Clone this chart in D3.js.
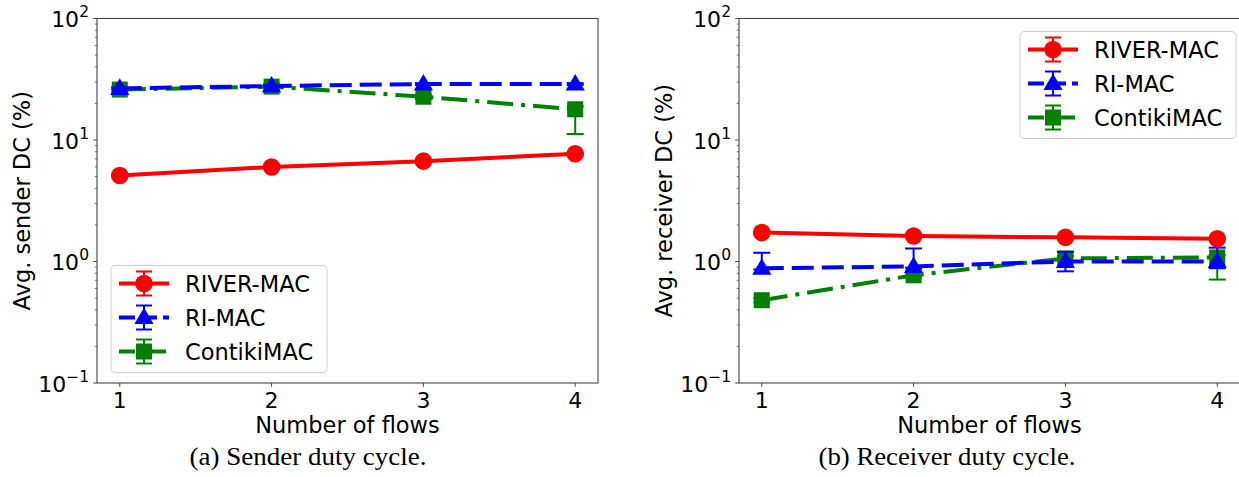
<!DOCTYPE html>
<html lang="en">
<head>
<meta charset="UTF-8">
<title>Sender / receiver duty cycle</title>
<script src="https://cdnjs.cloudflare.com/ajax/libs/d3/7.8.5/d3.min.js"></script>
<style>
  body { margin: 0; background: #fff; }
  svg text { font-family: "DejaVu Sans", sans-serif; fill: #000; }
  svg .caption { font-family: "Liberation Serif", "DejaVu Serif", serif; }
</style>
</head>
<body>
<svg id="CHART" width="1239" height="477"></svg>
<script>
// ---- data ----
var flows = [1, 2, 3, 4];
var seriesNames = ["RIVER-MAC", "RI-MAC", "ContikiMAC"];
var yTickExps = [-1, 0, 1, 2];

// sender duty cycle (%)
var senderRiver = [5.1, 6.0, 6.7, 7.7];
var senderRiverLo = [0.1, 0.1, 0.1, 0.2];
var senderRiverHi = [0.1, 0.1, 0.1, 0.2];
var senderRi = [26.6, 27.8, 28.9, 28.9];
var senderRiLo = [0.5, 0.5, 0.5, 0.5];
var senderRiHi = [0.5, 0.5, 0.5, 0.5];
var senderContiki = [26.0, 27.5, 22.7, 17.9];
var senderContikiLo = [1.0, 1.0, 1.0, 6.7];
var senderContikiHi = [1.0, 1.5, 1.0, 1.0];

// receiver duty cycle (%)
var recvRiver = [1.73, 1.62, 1.58, 1.54];
var recvRiverLo = [0.02, 0.02, 0.02, 0.02];
var recvRiverHi = [0.02, 0.02, 0.02, 0.02];
var recvRi = [0.88, 0.91, 1.0, 1.0];
var recvRiLo = [0.02, 0.02, 0.17, 0.12];
var recvRiHi = [0.3, 0.37, 0.2, 0.3];
var recvContiki = [0.48, 0.77, 1.06, 1.08];
var recvContikiLo = [0.02, 0.03, 0.05, 0.37];
var recvContikiHi = [0.02, 0.03, 0.05, 0.05];

var styles = [
  { color: "#ff0000", dash: null, marker: "circle" },
  { color: "#0000ff", dash: "22,8", marker: "triangle" },
  { color: "#008000", dash: "26,8,4,8", marker: "square" }
];

var svg = d3.select("#CHART");

function marker(g, kind, color, x, y) {
  if (kind === "circle") {
    g.append("circle").attr("cx", x).attr("cy", y).attr("r", 8.8).attr("fill", color);
  } else if (kind === "triangle") {
    g.append("path").attr("d", d3.symbol().type(d3.symbolTriangle).size(160)())
      .attr("transform", "translate(" + x + "," + (y + 1) + ")").attr("fill", color);
  } else {
    g.append("rect").attr("x", x - 8).attr("y", y - 8).attr("width", 16).attr("height", 16)
      .attr("fill", color);
  }
}

function drawPanel(p) {
  var width = 501, height = 364.5;
  var g = svg.append("g").attr("transform", "translate(" + p.left + "," + p.top + ")");

  var x = d3.scaleLinear().domain([0.85, 4.15]).range([0, width]);
  var y = d3.scaleLog().domain([0.1, 100]).range([height, 0]);

  // minor ticks
  var minor = [];
  yTickExps.slice(0, 3).forEach(function(e) {
    for (var k = 2; k <= 9; k++) minor.push(k * Math.pow(10, e));
  });
  g.append("g").selectAll("line").data(minor).join("line")
    .attr("x1", -2.2).attr("x2", 0)
    .attr("y1", function(d) { return y(d); }).attr("y2", function(d) { return y(d); })
    .attr("stroke", "#333").attr("stroke-width", 0.7);

  // major y ticks + labels
  var yt = g.append("g").selectAll("g").data(yTickExps).join("g")
    .attr("transform", function(d) { return "translate(0," + y(Math.pow(10, d)) + ")"; });
  yt.append("line").attr("x1", -3.8).attr("x2", 0).attr("stroke", "#333").attr("stroke-width", 0.9);
  var lab = yt.append("text").attr("text-anchor", "end").attr("x", -8).attr("y", 8.5)
    .style("font-size", "22px");
  lab.append("tspan").text("10");
  lab.append("tspan").attr("dy", -10).style("font-size", "15.5px")
    .text(function(d) { return d < 0 ? "\u2212" + (-d) : d; });

  // x ticks
  var xt = g.append("g").attr("transform", "translate(0," + height + ")")
    .selectAll("g").data(flows).join("g")
    .attr("transform", function(d) { return "translate(" + x(d) + ",0)"; });
  xt.append("line").attr("y1", 0).attr("y2", 3.8).attr("stroke", "#333").attr("stroke-width", 0.9);
  xt.append("text").attr("y", 25).attr("text-anchor", "middle").style("font-size", "22px")
    .text(function(d) { return d; });

  // frame
  g.append("rect").attr("width", width).attr("height", height)
    .attr("fill", "none").attr("stroke", "#444").attr("stroke-width", 1.1);

  // series, drawn in reverse so RIVER-MAC is on top
  var plot = g.append("g");
  [2, 1, 0].forEach(function(i) {
    var s = p.series[i], st = styles[i];
    var pts = flows.map(function(f, j) {
      return { x: f, v: s.v[j], lo: s.v[j] - s.lo[j], hi: s.v[j] + s.hi[j] };
    });
    var sg = plot.append("g");
    // error bars
    pts.forEach(function(d) {
      var cx = x(d.x);
      sg.append("line").attr("x1", cx).attr("x2", cx).attr("y1", y(d.lo)).attr("y2", y(d.hi))
        .attr("stroke", st.color).attr("stroke-width", 2);
      [d.lo, d.hi].forEach(function(c) {
        sg.append("line").attr("x1", cx - 8.5).attr("x2", cx + 8.5).attr("y1", y(c)).attr("y2", y(c))
          .attr("stroke", st.color).attr("stroke-width", 2);
      });
    });
    sg.append("path").datum(pts)
      .attr("d", d3.line().x(function(d) { return x(d.x); }).y(function(d) { return y(d.v); }))
      .attr("fill", "none").attr("stroke", st.color).attr("stroke-width", 4)
      .attr("stroke-dasharray", st.dash);
    pts.forEach(function(d) { marker(sg, st.marker, st.color, x(d.x), y(d.v)); });
  });

  // axis labels
  g.append("text").attr("x", width / 2).attr("y", height + 50).attr("text-anchor", "middle")
    .style("font-size", "22.5px").text("Number of flows");
  g.append("text").attr("transform", "translate(" + p.yLabelX + "," + (height / 2) + ") rotate(-90)")
    .attr("text-anchor", "middle").style("font-size", "22.5px").text(p.yLabel);

  // caption
  g.append("text").attr("class", "caption").attr("x", p.captionX).attr("y", height + 82)
    .attr("text-anchor", "middle").style("font-size", "25px")
    .attr("textLength", p.captionW).attr("lengthAdjust", "spacingAndGlyphs").text(p.caption);

  // legend
  var lg = g.append("g").attr("transform", "translate(" + p.legend[0] + "," + p.legend[1] + ")");
  lg.append("rect").attr("width", 216).attr("height", 107).attr("rx", 4)
    .attr("fill", "#fff").attr("fill-opacity", 0.85).attr("stroke", "#d0d0d0").attr("stroke-width", 1);
  seriesNames.forEach(function(name, i) {
    var st = styles[i], ry = 18 + i * 34;
    var row = lg.append("g");
    row.append("line").attr("x1", 8).attr("x2", 58).attr("y1", ry).attr("y2", ry)
      .attr("stroke", st.color).attr("stroke-width", 4)
      .attr("stroke-dasharray", st.dash ? (i === 1 ? "16,6" : "16,6,3,6") : null);
    row.append("line").attr("x1", 33).attr("x2", 33).attr("y1", ry - 12).attr("y2", ry + 12)
      .attr("stroke", st.color).attr("stroke-width", 2);
    [ry - 12, ry + 12].forEach(function(cy) {
      row.append("line").attr("x1", 25).attr("x2", 41).attr("y1", cy).attr("y2", cy)
        .attr("stroke", st.color).attr("stroke-width", 2);
    });
    marker(row, st.marker, st.color, 33, ry);
    row.append("text").attr("x", 74).attr("y", ry + 8).style("font-size", "22.5px").text(name);
  });
}

drawPanel({
  left: 97, top: 18.5,
  yLabel: "Avg. sender DC (%)", yLabelX: -67,
  caption: "(a) Sender duty cycle.", captionX: 211, captionW: 237,
  legend: [14, 247],
  series: [
    { v: senderRiver, lo: senderRiverLo, hi: senderRiverHi },
    { v: senderRi, lo: senderRiLo, hi: senderRiHi },
    { v: senderContiki, lo: senderContikiLo, hi: senderContikiHi }
  ]
});

drawPanel({
  left: 739, top: 18.5,
  yLabel: "Avg. receiver DC (%)", yLabelX: -67,
  caption: "(b) Receiver duty cycle.", captionX: 208, captionW: 257,
  legend: [281, 13],
  series: [
    { v: recvRiver, lo: recvRiverLo, hi: recvRiverHi },
    { v: recvRi, lo: recvRiLo, hi: recvRiHi },
    { v: recvContiki, lo: recvContikiLo, hi: recvContikiHi }
  ]
});
</script>
</body>
</html>
